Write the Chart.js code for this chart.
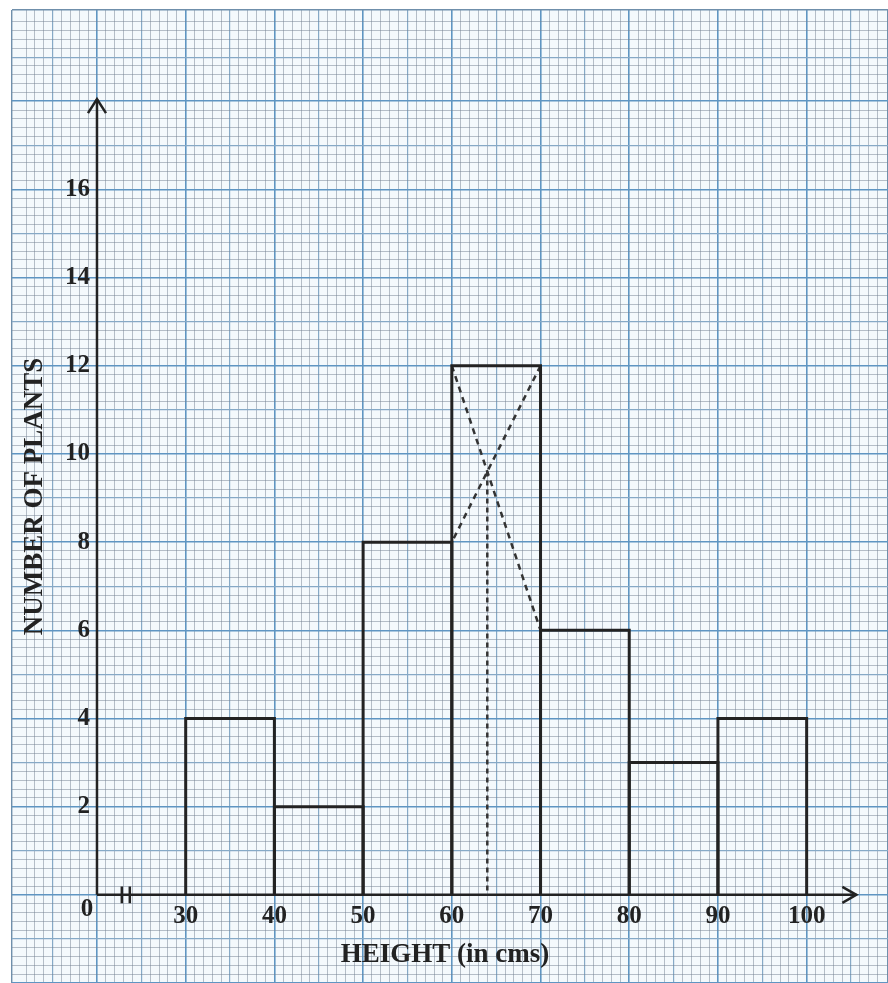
<!DOCTYPE html>
<html>
<head>
<meta charset="utf-8">
<script src="https://cdn.jsdelivr.net/npm/chart.js@4.4.0/dist/chart.umd.min.js"></script>
<style>
    html, body { margin: 0; padding: 0; background: #fff; }
</style>
</head>
<body>
<canvas id="hist" width="888" height="983"></canvas>
<script>
// Границы интервалов (см) и число растений
const binEdges = [30, 40, 50, 60, 70, 80, 90, 100];
const frequencies = [4, 2, 8, 12, 6, 3, 4];
const yTickLabels = [2, 4, 6, 8, 10, 12, 14, 16];
const xTickLabels = [30, 40, 50, 60, 70, 80, 90, 100];

// Построение моды (штриховые линии)
const modeLineA = [{x: 60, y: 12}, {x: 70, y: 6}];
const modeLineB = [{x: 70, y: 12}, {x: 60, y: 8}];
const modeLine = [{x: 64, y: 9.6}, {x: 64, y: 0}];

// Оси и разрыв оси X
const yAxisLine = [{x: 20, y: 0}, {x: 20, y: 18.05}];
const xAxisLine = [{x: 20, y: 0}, {x: 105.6, y: 0}];
const breakMarks = [22.8, 23.7];

const INK = '#222222';
const FONT = 'bold 25px "Liberation Serif", "Times New Roman", serif';
const TITLE_FONT = 'bold 27px "Liberation Serif", "Times New Roman", serif';

// Цвета миллиметровки
function gridStyle(k, major, mid) {
    if (k % major === 0) return {color: '#5f95c2', width: 1.6};
    if (k % mid === 0) return {color: '#86a9c6', width: 1.2};
    return {color: 'rgba(115,130,145,0.5)', width: 1};
}
function xGrid(v) {
    if (Math.abs(v - Math.round(v)) > 1e-6) return {color: '#6f8fab', width: 1.4};
    return gridStyle(Math.round(v), 10, 5);
}
function yGrid(v) {
    const k = Math.round(v * 5);
    if (Math.abs(v * 5 - k) > 1e-6) return {color: '#6f8fab', width: 1.4};
    return gridStyle(k, 10, 5);
}

const line = (data, extra) => Object.assign({
    type: 'line',
    data,
    borderColor: INK,
    borderWidth: 3,
    pointRadius: 0,
    fill: false,
    tension: 0,
    borderJoinStyle: 'miter'
}, extra || {});

const datasets = [];
frequencies.forEach((f, i) => {
    const lo = binEdges[i], hi = binEdges[i + 1];
    datasets.push(line([{x: lo, y: 0}, {x: lo, y: f}, {x: hi, y: f}, {x: hi, y: 0}]));
});
datasets.push(line(modeLineA, {borderWidth: 2.5, borderDash: [6, 5], borderColor: '#333'}));
datasets.push(line(modeLineB, {borderWidth: 2.5, borderDash: [6, 5], borderColor: '#333'}));
datasets.push(line(modeLine, {borderWidth: 2.5, borderDash: [5, 4], borderColor: '#333'}));
datasets.push(line(yAxisLine, {borderWidth: 2.5}));
datasets.push(line(xAxisLine, {borderWidth: 2.5}));
breakMarks.forEach(b => {
    datasets.push(line([{x: b, y: 0.19}, {x: b, y: -0.19}], {borderWidth: 2.5}));
});

// Фон бумаги
const paperPlugin = {
    id: 'paper',
    beforeDraw(chart) {
        const {ctx, chartArea: a} = chart;
        ctx.save();
        ctx.fillStyle = '#ffffff';
        ctx.fillRect(0, 0, chart.width, chart.height);
        ctx.fillStyle = '#f4f9fc';
        ctx.fillRect(a.left, a.top, a.right - a.left, a.bottom - a.top);
        ctx.restore();
    }
};

// Стрелки, подписи делений и заголовки осей
const labelPlugin = {
    id: 'labels',
    afterDatasetsDraw(chart) {
        const {ctx, chartArea: a} = chart;
        const sx = chart.scales.x, sy = chart.scales.y;
        const px = v => sx.getPixelForValue(v);
        const py = v => sy.getPixelForValue(v);
        ctx.save();
        ctx.strokeStyle = INK;
        ctx.lineWidth = 2.5;
        ctx.lineJoin = 'miter';

        // стрелка оси Y
        let tx = px(yAxisLine[1].x), ty = py(yAxisLine[1].y);
        ctx.beginPath();
        ctx.moveTo(tx - 9, ty + 14);
        ctx.lineTo(tx, ty);
        ctx.lineTo(tx + 9, ty + 14);
        ctx.stroke();

        // стрелка оси X
        tx = px(xAxisLine[1].x); ty = py(xAxisLine[1].y);
        ctx.beginPath();
        ctx.moveTo(tx - 14, ty - 8);
        ctx.lineTo(tx, ty);
        ctx.lineTo(tx - 14, ty + 8);
        ctx.stroke();

        ctx.fillStyle = INK;
        ctx.font = FONT;
        ctx.textBaseline = 'middle';
        ctx.textAlign = 'right';
        yTickLabels.forEach(v => ctx.fillText(String(v), px(20) - 7, py(v)));

        ctx.textAlign = 'center';
        xTickLabels.forEach(v => ctx.fillText(String(v), px(v), py(0) + 22));
        ctx.fillText('0', px(20) - 10, py(0) + 15);

        ctx.font = TITLE_FONT;
        ctx.fillText('HEIGHT (in cms)', (a.left + a.right) / 2 - 5, py(0) + 60);

        ctx.translate(a.left + 23, (a.top + a.bottom) / 2);
        ctx.rotate(-Math.PI / 2);
        ctx.fillText('NUMBER OF PLANTS', 0, 0);
        ctx.restore();
    }
};

new Chart(document.getElementById('hist'), {
    type: 'line',
    data: {datasets},
    options: {
        responsive: false,
        animation: false,
        layout: {padding: {left: 12, top: 10, right: 0, bottom: 0}},
        plugins: {legend: {display: false}, tooltip: {enabled: false}},
        scales: {
            x: {
                type: 'linear',
                min: 10.42,
                max: 109.17,
                border: {display: false},
                ticks: {display: false, stepSize: 1},
                grid: {
                    drawTicks: false,
                    color: c => xGrid(c.tick.value).color,
                    lineWidth: c => xGrid(c.tick.value).width
                }
            },
            y: {
                type: 'linear',
                min: -2.0,
                max: 20.07,
                border: {display: false},
                ticks: {display: false, stepSize: 0.2},
                grid: {
                    drawTicks: false,
                    color: c => yGrid(c.tick.value).color,
                    lineWidth: c => yGrid(c.tick.value).width
                }
            }
        }
    },
    plugins: [paperPlugin, labelPlugin]
});
</script>
</body>
</html>
